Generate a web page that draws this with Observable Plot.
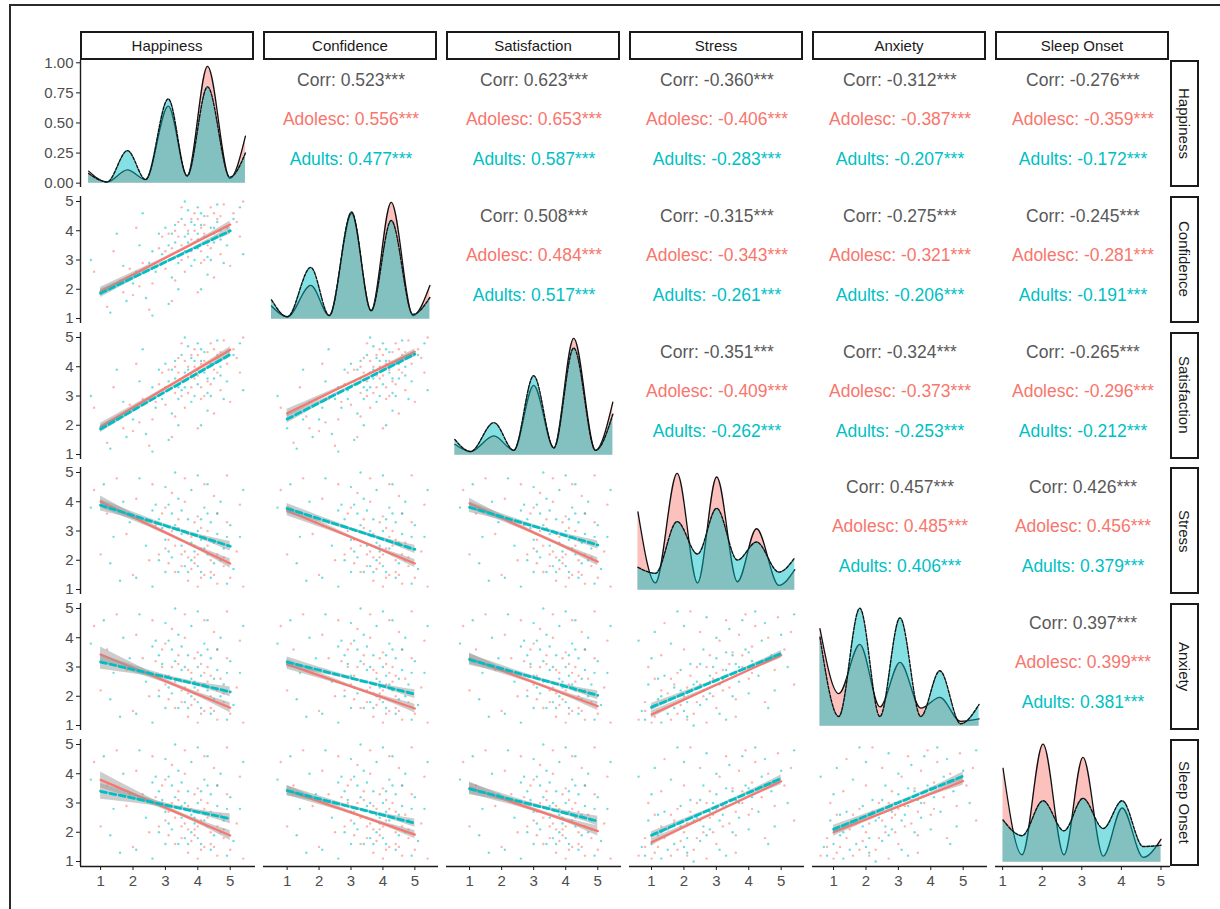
<!DOCTYPE html>
<html><head><meta charset="utf-8">
<script src="https://cdn.jsdelivr.net/npm/d3@7"></script>
<script src="https://cdn.jsdelivr.net/npm/@observablehq/plot@0.6"></script>
<style>
body{margin:0;background:#fff;font-family:"Liberation Sans",Arial,sans-serif;}
#root{position:relative;width:1220px;height:909px;overflow:hidden;background:#fff;}
.strip{position:absolute;box-sizing:border-box;border:2px solid #1a1a1a;background:#fff;font-size:15px;color:#1a1a1a;display:flex;align-items:center;justify-content:center;}
.vstrip span{writing-mode:vertical-rl;}
.frame{position:absolute;left:9px;top:4px;width:1400px;height:1100px;border-left:2px solid #2a2a2a;border-top:2px solid #2a2a2a;}
</style></head><body><div id="root"><div class="frame"></div></div>
<script>
// ---------- data ----------
const variables = ["Happiness","Confidence","Satisfaction","Stress","Anxiety","Sleep Onset"];
const groupColors = ["#F8766D","#00BFC4"]; // Adolescents, Adults
const xDomains = [[0.38,5.78],[0.26,5.74],[0.28,5.74],[0.32,5.72],[0.35,5.75],[0.82,5.24]];
const scatterYDomain = [0.83,5.17];
const densityYDomain = [-0.036,1.019];
const likertTicks = [1,2,3,4,5];
const densityTicks = [0,0.25,0.5,0.75,1];

// correlations (upper triangle): [row, col]
const corrPairs = [[0,1],[0,2],[0,3],[0,4],[0,5],[1,2],[1,3],[1,4],[1,5],[2,3],[2,4],[2,5],[3,4],[3,5],[4,5]];
const corrAll   = [0.523,0.623,-0.360,-0.312,-0.276,0.508,-0.315,-0.275,-0.245,-0.351,-0.324,-0.265,0.457,0.426,0.397];
const corrAdol  = [0.556,0.653,-0.406,-0.387,-0.359,0.484,-0.343,-0.321,-0.281,-0.409,-0.373,-0.296,0.485,0.456,0.399];
const corrAdult = [0.477,0.587,-0.283,-0.207,-0.172,0.517,-0.261,-0.206,-0.191,-0.262,-0.253,-0.212,0.406,0.379,0.381];

// densities on the diagonal: [x, Adolescents, Adults]
const densHappiness = [[0.63,0.10,0.08],[1.20,0.01,0.01],[1.83,0.11,0.27],[2.39,0.03,0.03],[3.09,0.64,0.70],[3.67,0.06,0.06],[4.30,0.97,0.80],[4.99,0.04,0.05],[5.47,0.39,0.25]];
const densConfidence = [[0.51,0.11,0.16],[1.01,0.02,0.02],[1.74,0.28,0.43],[2.32,0.03,0.03],[3.02,0.88,0.89],[3.63,0.07,0.07],[4.26,0.97,0.82],[4.94,0.03,0.04],[5.47,0.28,0.18]];
const densSatisfaction = [[0.54,0.09,0.13],[1.03,0.03,0.03],[1.76,0.16,0.27],[2.38,0.04,0.04],[3.00,0.58,0.66],[3.63,0.06,0.06],[4.25,0.97,0.89],[4.93,0.04,0.04],[5.47,0.44,0.34]];
const densStress = [[0.58,0.65,0.19],[1.12,0.06,0.14],[1.79,0.97,0.57],[2.42,0.06,0.30],[3.01,0.94,0.68],[3.65,0.07,0.25],[4.24,0.51,0.40],[4.93,0.04,0.15],[5.42,0.17,0.27]];
const densAnxiety = [[0.58,0.81,0.74],[1.16,0.27,0.08],[1.81,0.68,0.98],[2.43,0.16,0.08],[3.05,0.53,0.90],[3.69,0.15,0.08],[4.28,0.24,0.46],[4.92,0.04,0.02],[5.49,0.06,0.18]];
const densSleepOnset = [[1.01,0.78,0.35],[1.49,0.06,0.22],[2.02,0.98,0.51],[2.55,0.06,0.26],[3.03,0.87,0.53],[3.54,0.05,0.28],[4.02,0.45,0.51],[4.55,0.04,0.13],[5.00,0.19,0.14]];

// regression fits in the lower panels: [row, col]
const lowerPanels   = [[1,0],[2,0],[2,1],[3,0],[3,1],[3,2],[4,0],[4,1],[4,2],[4,3],[5,0],[5,1],[5,2],[5,3],[5,4]];
const fitAdolStart  = [1.93,1.95,2.41,4.00,3.69,3.94,3.43,3.09,3.29,1.38,3.79,3.43,3.52,1.66,2.00];
const fitAdolEnd    = [4.21,4.58,4.51,1.89,1.89,1.95,1.61,1.58,1.66,3.40,1.89,1.92,2.04,3.74,3.75];
const fitAdultStart = [1.86,1.87,2.21,3.88,3.77,3.81,3.17,3.17,3.25,1.63,3.40,3.42,3.48,1.90,2.10];
const fitAdultEnd   = [4.00,4.42,4.43,2.48,2.37,2.52,2.15,2.07,2.03,3.46,2.46,2.31,2.38,3.84,3.92];
const bandStart     = [0.14,0.12,0.14,0.20,0.17,0.18,0.25,0.17,0.19,0.12,0.27,0.17,0.20,0.12,0.14];
const bandEnd       = [0.12,0.10,0.10,0.16,0.14,0.14,0.17,0.15,0.15,0.10,0.17,0.14,0.17,0.12,0.14];
const cloudType     = ["A","A","A","N","N","N","N","N","N","B","N","N","N","B","B"];

// estimated point clouds (x, y)
const cloudA_adol = [[1.2,1.4],[1.6,2.3],[2.0,1.8],[2.3,2.9],[2.6,2.2],[2.8,3.4],[3.0,2.7],[3.1,3.9],[3.3,3.1],[3.4,4.3],[3.5,3.5],[3.6,2.6],[3.7,4.0],[3.8,3.3],[3.9,4.6],[4.0,3.7],[4.1,2.9],[4.2,4.2],[4.3,3.5],[4.4,4.8],[4.5,3.9],[4.6,4.4],[4.7,3.2],[4.8,4.9],[4.9,4.1],[5.1,4.6],[5.3,3.8],[5.4,5.0],[0.8,2.6],[1.4,3.3],[2.1,4.1],[2.5,1.3],[3.2,1.6],[3.5,4.8],[4.0,1.9],[4.5,2.4],[5.0,2.8],[5.2,4.3],[1.9,2.7],[2.9,3.8],[3.8,4.4],[4.2,3.0],[4.7,4.5],[3.3,2.3],[3.9,3.6],
  [3.2,3.4],[3.4,3.8],[3.6,4.2],[3.7,3.1],[3.9,4.0],[4.0,4.4],[4.1,3.3],[4.2,3.9],[4.3,4.5],[4.4,3.4],[3.5,3.0],[3.8,3.7],[4.1,4.1],[3.3,4.0],[4.5,4.6],[3.0,3.3],[2.7,2.8],[4.6,3.8],[2.2,2.1],[1.7,1.9]];
const cloudA_adult = [[1.0,1.9],[1.3,1.2],[1.7,2.8],[2.0,2.2],[2.2,3.5],[2.4,1.7],[2.7,2.6],[2.9,3.2],[3.0,4.1],[3.2,2.4],[3.3,3.6],[3.4,2.9],[3.5,4.4],[3.6,3.3],[3.7,3.9],[3.8,2.8],[3.9,4.2],[4.0,3.4],[4.1,4.6],[4.2,3.8],[4.3,2.5],[4.4,4.1],[4.5,3.6],[4.6,4.9],[4.7,4.0],[4.9,3.5],[5.1,4.4],[5.3,4.8],[0.7,3.0],[1.5,3.9],[2.3,4.6],[2.6,1.1],[3.1,1.5],[3.6,5.0],[4.1,2.0],[4.8,2.9],[5.4,3.2],[1.8,1.6],[2.8,3.9],[3.7,4.7],[4.3,3.1],[4.6,4.3],[3.4,2.0],[4.0,4.8],[2.5,2.9],
  [3.1,3.5],[3.3,4.2],[3.5,3.2],[3.6,3.8],[3.8,4.3],[3.9,3.0],[4.0,3.9],[4.2,4.5],[4.3,3.6],[4.4,3.0],[3.4,3.3],[3.7,3.6],[4.1,4.2],[3.2,3.9],[4.5,4.1],[2.9,2.9],[2.6,3.3],[4.7,3.7],[2.1,2.6],[1.5,2.2]];
const cloudN_adol = [[0.8,4.4],[1.2,3.6],[1.5,4.8],[1.8,2.9],[2.1,4.1],[2.3,3.3],[2.6,4.6],[2.8,2.2],[3.0,3.8],[3.1,2.7],[3.2,4.3],[3.3,1.6],[3.4,3.1],[3.5,2.2],[3.6,4.0],[3.7,1.3],[3.8,2.8],[3.9,1.9],[4.0,3.5],[4.1,2.4],[4.2,1.5],[4.3,3.0],[4.4,2.0],[4.5,4.2],[4.6,1.2],[4.7,2.6],[4.8,1.8],[4.9,3.3],[5.0,1.4],[5.2,2.3],[5.4,1.1],[5.3,3.9],[1.0,2.2],[2.0,1.5],[2.5,2.0],[3.6,4.8],[4.2,4.6],[4.9,4.9],[3.9,3.3],[4.4,2.7],[3.3,2.5],[4.0,1.1],[2.9,3.0],[4.6,3.6],[3.7,2.1],
  [3.6,2.3],[3.8,1.7],[4.0,2.2],[4.1,1.4],[4.3,2.5],[4.4,1.6],[3.7,2.9],[3.9,2.1],[4.2,2.8],[4.5,1.5],[3.4,3.4],[3.2,3.0],[2.9,3.6],[3.5,1.8],[4.6,2.2],[4.8,2.1],[3.1,1.9],[2.7,3.2],[4.1,3.1],[3.0,2.4]];
const cloudN_adult = [[0.7,3.8],[1.1,4.6],[1.4,2.8],[1.7,4.0],[1.9,3.3],[2.2,4.8],[2.4,2.5],[2.7,3.9],[2.9,3.1],[3.0,4.5],[3.1,2.3],[3.2,3.6],[3.4,4.1],[3.5,2.9],[3.6,1.8],[3.7,3.4],[3.8,4.4],[3.9,2.5],[4.0,3.0],[4.1,1.6],[4.2,3.8],[4.3,2.2],[4.4,3.3],[4.5,1.9],[4.6,2.9],[4.7,4.0],[4.8,2.4],[5.0,3.2],[5.1,1.7],[5.3,2.8],[5.4,4.4],[1.3,1.9],[2.1,1.4],[2.6,1.1],[3.3,5.0],[4.0,4.9],[4.9,1.2],[3.8,2.0],[4.3,4.6],[2.8,2.0],[3.5,3.7],[4.1,2.7],[4.6,3.6],[1.6,1.3],[3.0,1.6],
  [3.5,2.5],[3.7,1.6],[3.9,2.3],[4.0,1.8],[4.2,2.4],[4.4,1.4],[3.6,3.0],[3.8,2.6],[4.1,3.4],[4.5,2.6],[3.3,3.2],[3.1,3.9],[2.8,3.4],[3.4,1.6],[4.7,2.0],[4.9,2.8],[3.0,2.7],[2.6,3.7],[4.3,3.6],[3.2,2.1]];
const cloudB_adol = [[0.6,1.2],[0.8,1.8],[1.0,1.1],[1.1,2.6],[1.2,1.5],[1.3,3.4],[1.5,2.1],[1.6,1.2],[1.8,2.8],[1.9,1.7],[2.0,3.6],[2.1,2.3],[2.3,1.4],[2.4,3.0],[2.5,4.2],[2.6,2.0],[2.8,3.4],[2.9,2.6],[3.0,1.6],[3.1,3.9],[3.2,2.9],[3.3,4.6],[3.4,2.3],[3.5,3.5],[3.6,1.9],[3.7,4.1],[3.8,3.0],[3.9,4.8],[4.0,2.6],[4.1,3.7],[4.2,4.4],[4.4,3.2],[4.5,1.8],[4.6,4.0],[4.8,2.9],[4.9,4.7],[5.1,3.6],[5.3,4.2],[5.4,2.4],[1.4,4.5],[2.2,4.9],[2.7,1.1],[3.6,1.3],[0.9,3.0],[1.7,2.4],
  [1.1,1.3],[1.4,1.8],[1.6,2.6],[1.8,1.4],[2.0,2.0],[2.2,2.7],[2.4,1.8],[2.5,2.4],[2.7,3.0],[2.9,2.0],[3.0,2.8],[3.2,2.2],[3.4,3.1],[3.6,2.7],[1.3,2.2],[0.8,1.5],[2.1,1.2],[2.8,2.5],[3.8,3.4],[4.1,2.8]];
const cloudB_adult = [[0.7,1.5],[0.9,2.4],[1.0,3.3],[1.2,1.9],[1.3,1.1],[1.4,2.7],[1.6,3.8],[1.7,1.6],[1.9,2.2],[2.0,4.4],[2.1,1.3],[2.2,3.1],[2.4,2.5],[2.5,1.7],[2.6,3.6],[2.7,4.7],[2.8,2.1],[2.9,3.0],[3.0,4.0],[3.1,1.4],[3.2,2.6],[3.3,3.5],[3.4,4.3],[3.5,2.0],[3.6,3.1],[3.7,2.5],[3.8,4.6],[3.9,3.6],[4.0,2.1],[4.1,3.2],[4.2,4.9],[4.3,2.7],[4.4,3.9],[4.5,4.5],[4.7,3.4],[4.8,2.2],[5.0,4.1],[5.2,3.0],[5.4,4.8],[1.1,4.2],[1.8,4.9],[2.3,1.0],[3.3,1.2],[4.6,1.6],[0.6,3.9],
  [1.0,1.6],[1.3,2.0],[1.5,1.4],[1.7,2.3],[1.9,2.9],[2.1,1.8],[2.3,2.4],[2.5,3.1],[2.6,2.2],[2.8,2.7],[3.0,3.3],[3.1,2.4],[3.3,2.9],[3.5,3.4],[1.2,2.6],[0.8,1.2],[2.0,1.5],[2.7,1.9],[3.7,3.0],[4.0,3.5]];

// ---------- layout ----------
const root = document.getElementById("root");
const panelW = 175, panelH = 127;
const colLeft = c => 80 + 183 * c;
const rowTop = r => 60 + 135.8 * r;
const FONT = "'Liberation Sans', Arial, Helvetica, sans-serif";
const densities = [densHappiness, densConfidence, densSatisfaction, densStress, densAnxiety, densSleepOnset];
const clouds = {A: [cloudA_adol, cloudA_adult], N: [cloudN_adol, cloudN_adult], B: [cloudB_adol, cloudB_adult]};

function mount(svg, left, top) {
  svg.style.position = "absolute";
  svg.style.left = left + "px";
  svg.style.top = top + "px";
  root.appendChild(svg);
}

function panel(r, c, marks, yDom) {
  const ml = c === 0 ? 45 : 0, mb = r === 5 ? 32 : 0;
  const xDom = xDomains[c];
  const extra = [];
  if (c === 0) {
    extra.push(Plot.ruleX([xDom[0]], {stroke: "#1a1a1a", strokeWidth: 1.4}));
    extra.push(Plot.axisY({ticks: r === 0 ? densityTicks : likertTicks,
      tickFormat: r === 0 ? d3.format(".2f") : d3.format("d"),
      tickSize: 4, tickPadding: 3, fontSize: 15, stroke: "#1a1a1a", fill: "#4D4D4D", label: null}));
  }
  if (r === 5) {
    extra.push(Plot.ruleY([yDom[0]], {stroke: "#1a1a1a", strokeWidth: 1.4}));
    extra.push(Plot.axisX({ticks: likertTicks, tickFormat: d3.format("d"),
      tickSize: 4, tickPadding: 5, fontSize: 15, stroke: "#1a1a1a", fill: "#4D4D4D", label: null}));
  }
  const svg = Plot.plot({
    width: panelW + ml, height: panelH + mb,
    marginLeft: ml, marginBottom: mb, marginTop: 0, marginRight: 0,
    x: r === 5 ? {domain: xDom} : {domain: xDom, axis: null},
    y: c === 0 ? {domain: yDom} : {domain: yDom, axis: null},
    style: {fontFamily: FONT, fontSize: "15px", background: "transparent", overflow: "visible"},
    marks: [...marks, ...extra]
  });
  mount(svg, colLeft(c) - ml, rowTop(r));
}

// diagonal densities
variables.forEach((v, i) => {
  const d = densities[i];
  const marks = [
    Plot.areaY(d, {x: p => p[0], y: p => p[1], curve: "monotone-x", fill: groupColors[0], fillOpacity: 0.45}),
    Plot.lineY(d, {x: p => p[0], y: p => p[1], curve: "monotone-x", stroke: "#111", strokeWidth: 1.3}),
    Plot.areaY(d, {x: p => p[0], y: p => p[2], curve: "monotone-x", fill: groupColors[1], fillOpacity: 0.48}),
    Plot.lineY(d, {x: p => p[0], y: p => p[2], curve: "monotone-x", stroke: "#111", strokeWidth: 1.4, strokeDasharray: "3,1.5"})
  ];
  panel(i, i, marks, densityYDomain);
});

// lower scatter panels
lowerPanels.forEach(([r, c], k) => {
  const [cloudAdol, cloudAdult] = clouds[cloudType[k]];
  const fits = [[fitAdolStart[k], fitAdolEnd[k]], [fitAdultStart[k], fitAdultEnd[k]]];
  const marks = [
    Plot.dot(cloudAdol, {x: p => p[0], y: p => p[1], r: 1.2, fill: groupColors[0], fillOpacity: 0.55, clip: true}),
    Plot.dot(cloudAdult, {x: p => p[0], y: p => p[1], r: 1.2, fill: groupColors[1], fillOpacity: 0.55, clip: true})
  ];
  fits.forEach(([s, e], g) => {
    const xm = 3.3, ym = s + (e - s) * (xm - 1) / 4;
    const hm = 0.3 * (bandStart[k] + bandEnd[k]) / 2;
    const band = [[1, s - bandStart[k], s + bandStart[k]], [xm, ym - hm, ym + hm], [5, e - bandEnd[k], e + bandEnd[k]]];
    marks.push(Plot.areaY(band, {x: p => p[0], y1: p => p[1], y2: p => p[2], curve: "natural", fill: "#999999", fillOpacity: 0.5}));
    marks.push(Plot.line([[1, s], [5, e]], {x: p => p[0], y: p => p[1], stroke: groupColors[g],
      strokeWidth: g === 0 ? 2.2 : 2.8, strokeDasharray: g === 0 ? null : "6,3.5"}));
  });
  panel(r, c, marks, scatterYDomain);
});

// upper correlation text panels
const fmt = v => v.toFixed(3) + "***";
corrPairs.forEach(([r, c], k) => {
  const lines = [
    {t: "Corr: " + fmt(corrAll[k]), color: "#595959", dy: 20},
    {t: "Adolesc: " + fmt(corrAdol[k]), color: groupColors[0], dy: 59},
    {t: "Adults: " + fmt(corrAdult[k]), color: groupColors[1], dy: 99}
  ];
  const marks = lines.map(l => Plot.text([l.t], {frameAnchor: "top", lineAnchor: "middle", dy: l.dy, text: d => d, fill: l.color, fontSize: 17.5}));
  const svg = Plot.plot({
    width: panelW, height: panelH, margin: 0,
    style: {fontFamily: FONT, background: "transparent", overflow: "visible"},
    marks
  });
  mount(svg, colLeft(c), rowTop(r));
});

// facet strips
variables.forEach((v, i) => {
  const top = document.createElement("div");
  top.className = "strip";
  top.style.left = colLeft(i) + "px"; top.style.top = "31px";
  top.style.width = "174px"; top.style.height = "29px";
  top.textContent = v;
  root.appendChild(top);
  const side = document.createElement("div");
  side.className = "strip vstrip";
  side.style.left = "1170px"; side.style.top = rowTop(i) + "px";
  side.style.width = "29px"; side.style.height = panelH + "px";
  const sp = document.createElement("span"); sp.textContent = v;
  side.appendChild(sp);
  root.appendChild(side);
});
</script></body></html>
